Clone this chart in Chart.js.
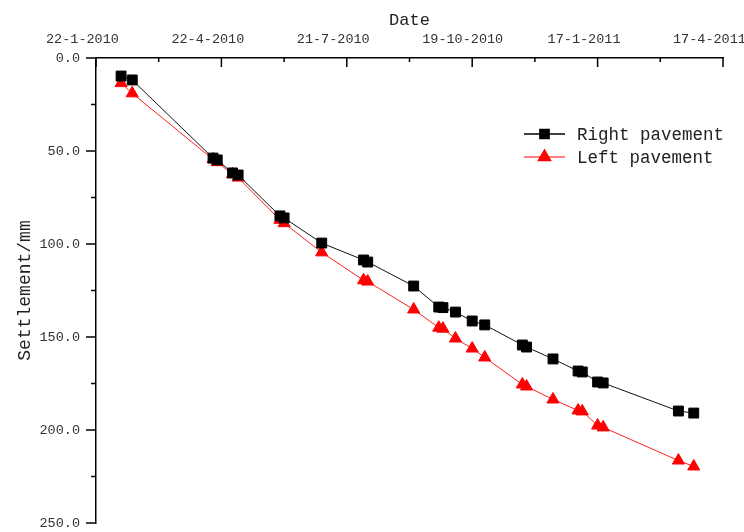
<!DOCTYPE html>
<html>
<head>
<meta charset="utf-8">
<script src="https://cdn.jsdelivr.net/npm/chart.js@4.4.0/dist/chart.umd.min.js"></script>
<style>
  html, body { margin: 0; padding: 0; background: #fff; }
  #wrap { width: 744px; height: 532px; }
</style>
</head>
<body>
<div id="wrap"><canvas id="myChart"></canvas></div>
<script>
// survey dates (d-m-yyyy) and settlement in mm
const dates = [
  '9-2-2010', '17-2-2010', '16-4-2010', '19-4-2010', '30-4-2010', '4-5-2010',
  '3-6-2010', '6-6-2010', '3-7-2010', '2-8-2010', '5-8-2010', '7-9-2010',
  '25-9-2010', '28-9-2010', '7-10-2010', '19-10-2010', '28-10-2010', '24-11-2010',
  '27-11-2010', '16-12-2010', '3-1-2011', '6-1-2011', '17-1-2011', '21-1-2011',
  '16-3-2011', '27-3-2011'
];
const rightPavement = [
  9.7, 11.8, 53.8, 54.8, 61.8, 62.9, 84.9, 86.0, 99.5, 108.6, 109.7, 122.6,
  133.9, 134.2, 136.6, 141.4, 143.5, 154.3, 155.4, 161.8, 168.3, 168.8,
  174.2, 174.7, 189.8, 190.9
];
const leftPavement = [
  13.5, 19.0, 54.5, 56.0, 62.5, 64.3, 87.0, 88.8, 104.5, 119.5, 120.2, 135.2,
  145.0, 145.5, 150.8, 156.2, 161.0, 175.5, 176.6, 183.6, 189.5, 190.0,
  197.6, 198.6, 216.4, 219.6
];
const xTickLabels = ['22-1-2010', '22-4-2010', '21-7-2010', '19-10-2010', '17-1-2011', '17-4-2011'];
const yTickValues = [0, 25, 50, 75, 100, 125, 150, 175, 200, 225, 250];

const mono = "'Liberation Mono', 'DejaVu Sans Mono', monospace";

function toUTC(s) {
  const p = s.split('-').map(Number);
  return Date.UTC(p[2], p[1] - 1, p[0]);
}
const origin = toUTC(xTickLabels[0]);
const dayOf = s => Math.round((toUTC(s) - origin) / 86400000);

// major ticks at the labelled dates, minor ticks halfway between
const majorDays = xTickLabels.map(dayOf);
const xTickDays = [];
majorDays.forEach((d, i) => {
  xTickDays.push(d);
  if (i < majorDays.length - 1) xTickDays.push((d + majorDays[i + 1]) / 2);
});

const rightPts = dates.map((d, i) => ({ x: dayOf(d), y: rightPavement[i] }));
const leftPts = dates.map((d, i) => ({ x: dayOf(d), y: leftPavement[i] }));

// tick marks: x ticks point into the plot, y ticks point outwards
const tickMarks = {
  id: 'tickMarks',
  afterDraw(chart) {
    const ctx = chart.ctx;
    const xs = chart.scales.x, ys = chart.scales.y;
    ctx.save();
    ctx.strokeStyle = '#000';
    ctx.lineWidth = 1.5;
    ctx.beginPath();
    xs.ticks.forEach(t => {
      const px = xs.getPixelForValue(t.value);
      const len = majorDays.includes(t.value) ? 9 : 4;
      ctx.moveTo(px, xs.bottom);
      ctx.lineTo(px, xs.bottom + len);
    });
    ys.ticks.forEach(t => {
      const py = ys.getPixelForValue(t.value);
      const len = t.value % 50 === 0 ? 10 : 5;
      ctx.moveTo(ys.right - len, py);
      ctx.lineTo(ys.right, py);
    });
    ctx.stroke();
    ctx.restore();
  }
};

// legend with line + marker inside the plot
const lineLegend = {
  id: 'lineLegend',
  afterDraw(chart) {
    const ctx = chart.ctx;
    const x0 = 524, x1 = 565, top = 134, gap = 23;
    ctx.save();
    chart.data.datasets.forEach((ds, i) => {
      const y = top + i * gap;
      ctx.strokeStyle = ds.legendLine;
      ctx.lineWidth = i === 0 ? 1.5 : 2;
      ctx.beginPath();
      ctx.moveTo(x0, y);
      ctx.lineTo(x1, y);
      ctx.stroke();
      ctx.fillStyle = ds.pointBackgroundColor;
      ctx.strokeStyle = ds.pointBorderColor;
      Chart.helpers.drawPoint(ctx, { pointStyle: ds.pointStyle, radius: 6.5, borderWidth: 1, rotation: 0 }, (x0 + x1) / 2, y);
      ctx.fillStyle = '#222';
      ctx.font = '17.5px ' + mono;
      ctx.textBaseline = 'middle';
      ctx.fillText(ds.label, 577, y + 1);
    });
    ctx.restore();
  }
};

const data = {
  datasets: [
    {
      label: 'Right pavement',
      data: rightPts,
      borderColor: '#111',
      borderWidth: 1,
      pointStyle: 'rect',
      pointRadius: 7,
      pointBackgroundColor: '#000',
      pointBorderColor: '#000',
      pointBorderWidth: 1,
      legendLine: '#000',
      tension: 0,
    },
    {
      label: 'Left pavement',
      data: leftPts,
      borderColor: '#ff2020',
      borderWidth: 1,
      pointStyle: 'triangle',
      pointRadius: 7,
      pointBackgroundColor: '#ff0000',
      pointBorderColor: '#ff0000',
      pointBorderWidth: 1,
      legendLine: '#ff8080',
      tension: 0,
    },
  ],
};

const config = {
  type: 'line',
  data: data,
  options: {
    responsive: true,
    maintainAspectRatio: false,
    animation: false,
    layout: { padding: { left: 10, right: 21, top: 0, bottom: 9 } },
    plugins: {
      legend: { display: false },
      tooltip: { enabled: false },
    },
    scales: {
      x: {
        type: 'linear',
        position: 'top',
        min: 0,
        max: majorDays[majorDays.length - 1],
        afterBuildTicks: s => { s.ticks = xTickDays.map(v => ({ value: v })); },
        afterFit: s => { s.height = 58; s.paddingLeft = 0; s.paddingRight = 0; },
        grid: { display: false, drawTicks: false },
        border: { display: true, color: '#000', width: 1.5 },
        ticks: {
          align: 'start',
          labelOffset: -50,
          padding: 10,
          autoSkip: false,
          maxRotation: 0,
          color: '#333',
          font: { family: mono, size: 13.5 },
          callback: v => {
            const i = majorDays.indexOf(v);
            return i >= 0 ? xTickLabels[i] : '';
          },
        },
        title: {
          display: true,
          text: 'Date',
          color: '#222',
          font: { family: mono, size: 17 },
          padding: { top: 10, bottom: 0 },
        },
      },
      y: {
        type: 'linear',
        reverse: true,
        min: 0,
        max: 250,
        afterBuildTicks: s => { s.ticks = yTickValues.map(v => ({ value: v })); },
        afterFit: s => { s.width = 86; s.paddingTop = 0; s.paddingBottom = 0; },
        grid: { display: false, drawTicks: false },
        border: { display: true, color: '#000', width: 1.5 },
        ticks: {
          padding: 16,
          color: '#333',
          font: { family: mono, size: 13.5 },
          callback: v => (v % 50 === 0 ? v.toFixed(1) : ''),
        },
        title: {
          display: true,
          text: 'Settlement/mm',
          color: '#222',
          font: { family: mono, size: 18 },
          padding: { top: 4, bottom: 4 },
        },
      },
    },
  },
  plugins: [tickMarks, lineLegend],
};

const myChart = new Chart(document.getElementById('myChart'), config);
</script>
</body>
</html>
